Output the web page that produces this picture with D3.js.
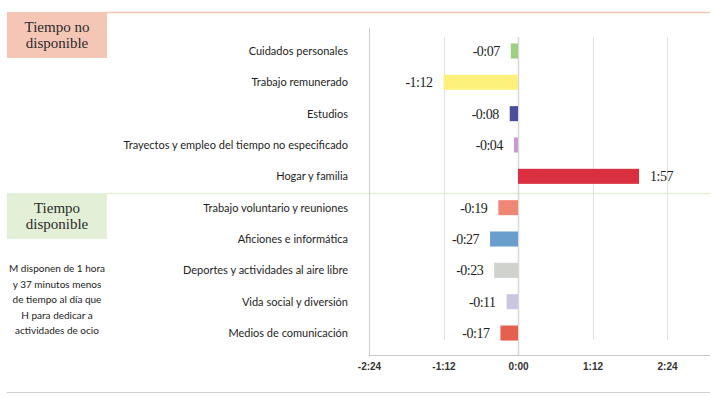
<!DOCTYPE html>
<html>
<head>
<meta charset="utf-8">
<script src="https://cdn.jsdelivr.net/npm/d3@7"></script>
<style>
  body { margin: 0; background: #fff; }
  svg { display: block; }
</style>
</head>
<body>
<script>
// categories, top to bottom
var categories = [
    "Cuidados personales",
    "Trabajo remunerado",
    "Estudios",
    "Trayectos y empleo del tiempo no especificado",
    "Hogar y familia",
    "Trabajo voluntario y reuniones",
    "Aficiones e informática",
    "Deportes y actividades al aire libre",
    "Vida social y diversión",
    "Medios de comunicación"
];

// difference M - H, in minutes per day
var minutes = [-7, -72, -8, -4, 117, -19, -27, -23, -11, -17];

var barColors = [
    "#9fcf80", "#fdf17b", "#4a4f9c", "#c79bcb", "#d92f3e",
    "#ef8777", "#6a9fcd", "#d0d2cd", "#cac6e0", "#e6604f"
];

var tickValues = [-144, -72, 0, 72, 144];

var sectionTitles = [["Tiempo no", "disponible"], ["Tiempo", "disponible"]];
var sectionColors = ["#f5c6b6", "#e3efd7"];
var noteLines = [
    "M disponen de 1 hora",
    "y 37 minutos menos",
    "de tiempo al día que",
    "H para dedicar a",
    "actividades de ocio"
];

var width = 720,
    height = 396;

var svg = d3.select("body").append("svg")
    .attr("width", width)
    .attr("height", height);

// h:mm format with sign
function fmt(m) {
    var a = Math.abs(m);
    return (m < 0 ? "-" : "") + Math.floor(a / 60) + ":" + d3.format("02d")(a % 60);
}

var x = d3.scaleLinear().domain([-144, 144]).range([369, 667]);

var y = d3.scaleBand()
    .domain(categories)
    .range([35.3, 348.7])
    .paddingInner(0.52)
    .paddingOuter(0.26);

// section boxes and separator lines
var sectionTop = [12, 193];
sectionTop.forEach(function(top, i) {
    svg.append("line")
        .attr("x1", 107).attr("x2", 710)
        .attr("y1", top + 0.5).attr("y2", top + 0.5)
        .style("stroke", sectionColors[i])
        .style("stroke-width", 1.5);
    svg.append("rect")
        .attr("x", 7).attr("y", top)
        .attr("width", 100).attr("height", 46)
        .style("fill", sectionColors[i]);
    svg.append("text")
        .attr("x", 57).attr("y", top + 20)
        .attr("text-anchor", "middle")
        .style("font-family", "Liberation Serif, serif")
        .style("font-size", "15px")
        .style("fill", "#2a2a2a")
        .selectAll("tspan")
        .data(sectionTitles[i])
        .enter().append("tspan")
        .attr("x", 57)
        .attr("dy", function(d, j) { return j ? 16 : 0; })
        .text(function(d) { return d; });
});

// side note
svg.append("text")
    .attr("text-anchor", "middle")
    .style("font-family", "Lato, sans-serif")
    .style("font-size", "10px")
    .style("fill", "#222")
    .selectAll("tspan")
    .data(noteLines)
    .enter().append("tspan")
    .attr("x", 57)
    .attr("y", function(d, j) { return 272 + j * 15.5; })
    .text(function(d) { return d; });

// bottom rule
svg.append("line")
    .attr("x1", 7).attr("x2", 710)
    .attr("y1", 392.5).attr("y2", 392.5)
    .style("stroke", "#d0d0d0");

// grid lines
svg.selectAll("line.grid")
    .data(tickValues.slice(1))
    .enter().append("line")
    .attr("class", "grid")
    .attr("x1", function(d) { return Math.round(x(d)) + 0.5; })
    .attr("x2", function(d) { return Math.round(x(d)) + 0.5; })
    .attr("y1", 37)
    .attr("y2", function(d) { return d === 0 ? 355 : 340; })
    .style("stroke", function(d) { return d === 0 ? "#d8d8d8" : "#e2e2e2"; })
    .style("stroke-width", function(d) { return d === 0 ? 1.5 : 1; });

// left axis line
svg.append("line")
    .attr("x1", 369.5).attr("x2", 369.5)
    .attr("y1", 28).attr("y2", 355)
    .style("stroke", "#cfcfcf");

// bottom axis
var xAxis = svg.append("g")
    .attr("transform", "translate(0,355)")
    .call(d3.axisBottom(x).tickValues(tickValues).tickFormat(fmt).tickSize(0).tickPadding(8));
xAxis.select(".domain").remove();
xAxis.append("line")
    .attr("x1", 369).attr("x2", 710)
    .attr("y1", 0.5).attr("y2", 0.5)
    .style("stroke", "#c8c8c8");
xAxis.selectAll("text")
    .style("font-family", "Liberation Sans, Arial, sans-serif")
    .style("font-size", "10px")
    .style("font-weight", "bold")
    .style("fill", "#333");

// category labels
svg.selectAll("text.cat")
    .data(categories)
    .enter().append("text")
    .attr("class", "cat")
    .attr("x", 348)
    .attr("y", function(d) { return y(d) + y.bandwidth() / 2; })
    .attr("dy", "0.35em")
    .attr("text-anchor", "end")
    .style("font-family", "Lato, sans-serif")
    .style("font-size", "11px")
    .style("fill", "#1e1e1e")
    .text(function(d) { return d; });

// bars
svg.selectAll("rect.bar")
    .data(minutes)
    .enter().append("rect")
    .attr("class", "bar")
    .attr("x", function(d) { return x(Math.min(0, d)); })
    .attr("y", function(d, i) { return y(categories[i]); })
    .attr("width", function(d) { return Math.abs(x(d) - x(0)); })
    .attr("height", y.bandwidth())
    .style("fill", function(d, i) { return barColors[i]; });

// value labels
svg.selectAll("text.val")
    .data(minutes)
    .enter().append("text")
    .attr("class", "val")
    .attr("x", function(d) { return d < 0 ? x(d) - 11 : x(d) + 11; })
    .attr("y", function(d, i) { return y(categories[i]) + y.bandwidth() / 2; })
    .attr("dy", "0.35em")
    .attr("text-anchor", function(d) { return d < 0 ? "end" : "start"; })
    .style("font-family", "Liberation Serif, serif")
    .style("font-size", "14px")
    .style("letter-spacing", "-0.5px")
    .style("fill", "#222")
    .text(fmt);
</script>
</body>
</html>
